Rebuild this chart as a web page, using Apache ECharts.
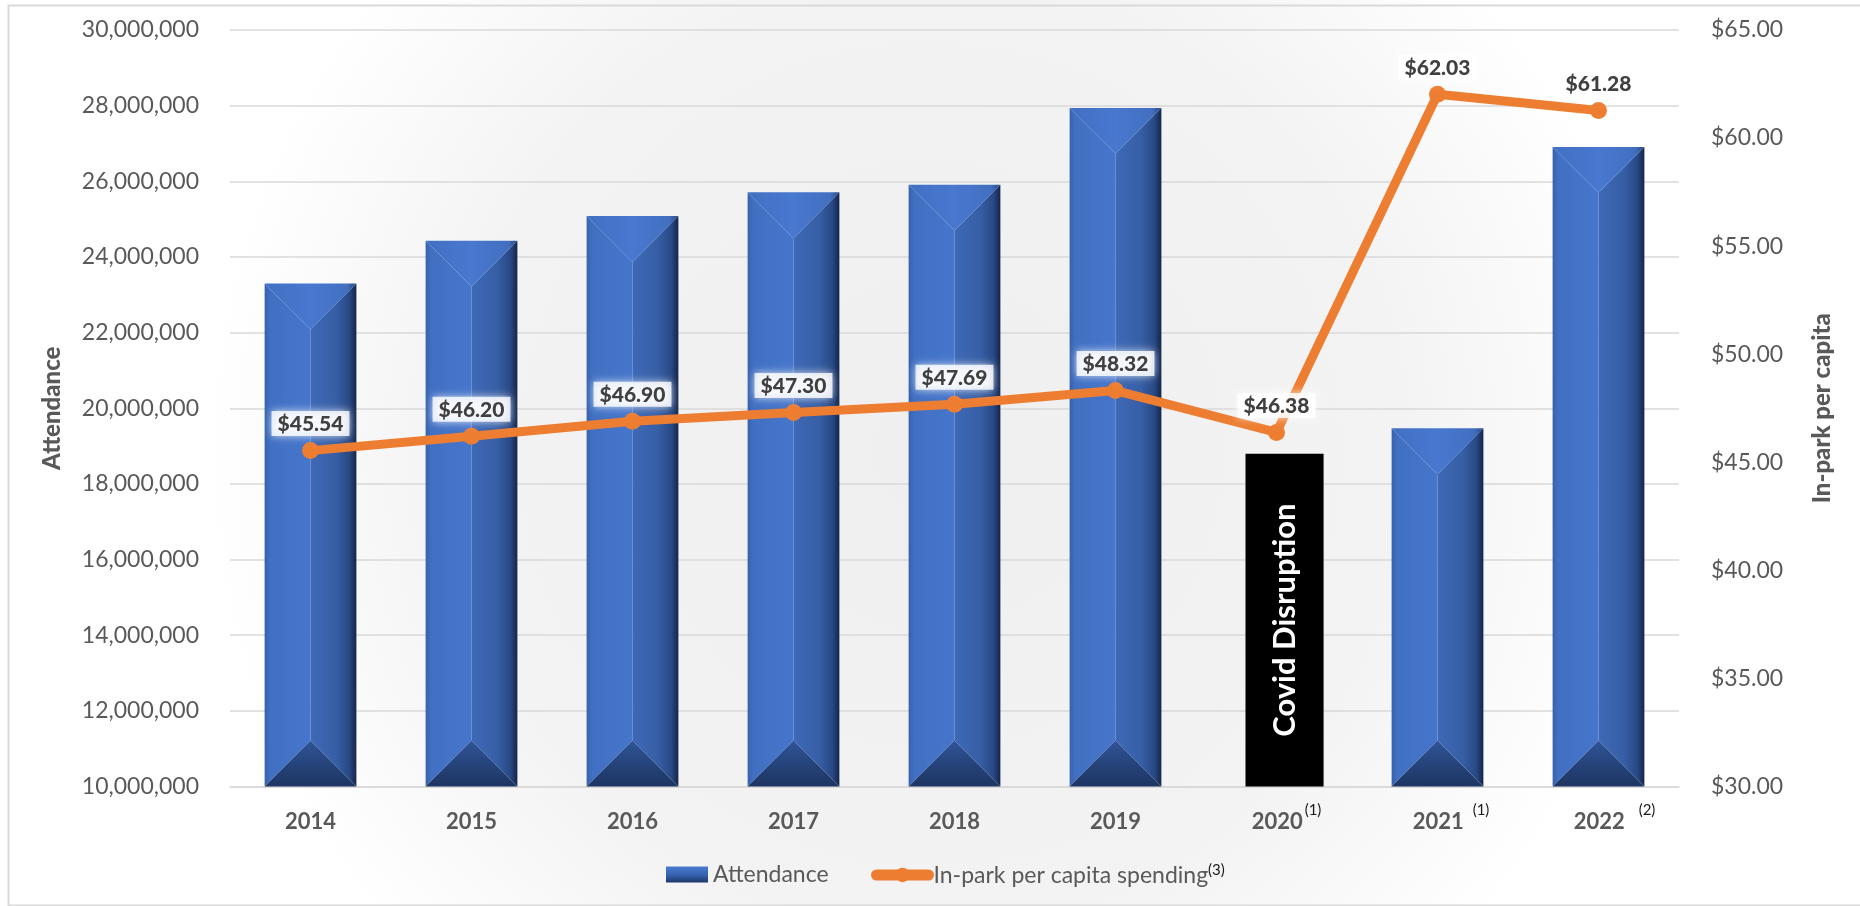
<!DOCTYPE html>
<html><head><meta charset="utf-8">
<script src="https://cdn.jsdelivr.net/npm/echarts@6/dist/echarts.min.js"></script>
<style>html,body{margin:0;padding:0;background:#fff}#chart{width:1860px;height:906px}</style>
</head><body><div id="chart"></div>
<script>
// ---- data ----
const years = ['2014', '2015', '2016', '2017', '2018', '2019', '2020', '2021', '2022'];
const yearNotes = ['', '', '', '', '', '', '(1)', '(1)', '(2)'];
const attendance = [23300000, 24430000, 25080000, 25710000, 25910000, 27940000, null, 19470000, 26910000];
const perCapita = [45.54, 46.20, 46.90, 47.30, 47.69, 48.32, 46.38, 62.03, 61.28];
const attendanceRange = [10000000, 30000000, 2000000];
const spendingRange = [30, 65, 5];
const covidCategory = ['2020'];
const covidTop = [18800000];
const covidLabel = ['Covid Disruption'];
const seriesNames = ['Attendance', 'In-park per capita spending'];
const legendNote = ['(3)'];
const axisNames = ['Attendance', 'In-park per capita'];

// ---- style ----
const FONT = 'Lato';
const GRAY = '#595959';
const noteGap = [0, 0, 0, 0, 0, 0, 2, 9, 14];
const attMin = attendanceRange[0];
const LG = echarts.graphic.LinearGradient;

function bevelBar(params, api) {
  const v = api.value(1);
  if (v == null || isNaN(v)) return null;
  const i = api.value(0);
  const p = api.coord([i, v]);
  const b = api.coord([i, attMin]);
  const band = api.size([1, 0])[0];
  const w = band * 0.57;
  const xc = p[0], x0 = xc - w / 2, x1 = xc + w / 2, yT = p[1], yB = b[1];
  const d = Math.min(w / 2, (yB - yT) / 2);
  return {
    type: 'group', children: [
      { type: 'polygon', shape: { points: [[x0, yT], [xc, yT + d], [xc, yB - d], [x0, yB]] },
        style: { fill: new LG(0, 0, 1, 0, [{ offset: 0, color: '#3661AD' }, { offset: 0.12, color: '#4170C2' }, { offset: 1, color: '#4676CC' }]) } },
      { type: 'polygon', shape: { points: [[xc, yT + d], [x1, yT], [x1, yB], [xc, yB - d]] },
        style: { fill: new LG(0, 0, 1, 0, [{ offset: 0, color: '#3E69B6' }, { offset: 0.55, color: '#375FA6' }, { offset: 0.85, color: '#284883' }, { offset: 1, color: '#14254A' }]) } },
      { type: 'polygon', shape: { points: [[x0, yT], [x1, yT], [xc, yT + d]] },
        style: { fill: new LG(0, 0, 1, 0, [{ offset: 0, color: '#4170C2' }, { offset: 0.5, color: '#4878CF' }, { offset: 0.9, color: '#426FC0' }, { offset: 1, color: '#2A4A85' }]) } },
      { type: 'polygon', shape: { points: [[x0, yB], [xc, yB - d], [x1, yB]] },
        style: { fill: new LG(0, 0, 0, 1, [{ offset: 0, color: '#2F5497' }, { offset: 1, color: '#1D3562' }]) } }
    ]
  };
}

function covidBox(params, api) {
  const i = api.value(0), v = api.value(1);
  const p = api.coord([i, v]);
  const b = api.coord([i, attMin]);
  const band = api.size([1, 0])[0];
  const w = band * 0.485;
  const cx = p[0] + band * 0.05;
  return {
    type: 'group', children: [
      { type: 'rect', shape: { x: cx - w / 2, y: p[1], width: w, height: b[1] - p[1] }, style: { fill: '#000' } },
      { type: 'text', x: cx, y: (p[1] + b[1]) / 2, rotation: Math.PI / 2,
        style: { text: covidLabel[0], fill: '#fff', font: 'bold 31px ' + FONT, align: 'center', verticalAlign: 'middle' } }
    ]
  };
}

const xRich = {
  year: { fontFamily: FONT, fontSize: 22, fontWeight: 'bold', color: GRAY, lineHeight: 30, verticalAlign: 'bottom' },
  sup: { fontFamily: FONT, fontSize: 15, color: '#1a1a1a', lineHeight: 6, verticalAlign: 'top' }
};
yearNotes.forEach((n, i) => {
  if (n) {
    xRich['pad' + i] = { width: 18 + noteGap[i], lineHeight: 30 };
    xRich['gap' + i] = { width: noteGap[i], lineHeight: 30 };
  }
});

const chart = echarts.init(document.getElementById('chart'), null, { renderer: 'canvas' });
const option = {
  animation: false,
  backgroundColor: new echarts.graphic.RadialGradient(0.5, 0.5, 0.8, [
    { offset: 0, color: '#efefef' }, { offset: 0.65, color: '#f3f3f3' }, { offset: 1, color: '#ffffff' }]),
  textStyle: { fontFamily: FONT },
  graphic: [{ type: 'rect', left: 6, top: 3, shape: { width: 1860, height: 900 }, style: { fill: 'none', stroke: '#d9d9d9', lineWidth: 2 }, silent: true }],
  grid: { left: 230, right: 181, top: 30, bottom: 119.5 },
  legend: [
    { left: 661, top: 858, itemWidth: 42, itemHeight: 16, itemGap: 37,
      data: [{ name: seriesNames[0], icon: 'rect', itemStyle: { color: new LG(0, 0, 0, 1, [{ offset: 0, color: '#4A7BD2' }, { offset: 0.55, color: '#3560AC' }, { offset: 1, color: '#1E3766' }]) } }],
      textStyle: { fontFamily: FONT, fontSize: 23, color: GRAY } },
    { left: 866, top: 858, itemWidth: 52, itemHeight: 18,
      data: [{ name: seriesNames[1], lineStyle: { width: 11, color: '#ED7D31' }, itemStyle: { color: '#ED7D31' } }],
      formatter: n => '{t|' + n + '}{sup|' + legendNote[0] + '}',
      textStyle: { fontFamily: FONT, fontSize: 23, color: GRAY,
        rich: { t: { fontFamily: FONT, fontSize: 23, color: GRAY, lineHeight: 24, verticalAlign: 'bottom' },
                sup: { fontFamily: FONT, fontSize: 15, color: '#1a1a1a', lineHeight: 4, verticalAlign: 'top' } } } }
  ],
  xAxis: {
    type: 'category', data: years,
    axisLine: { show: true, lineStyle: { color: '#d9d9d9', width: 1.5 } },
    axisTick: { show: false },
    axisLabel: { margin: 16, interval: 0,
      formatter: (v, i) => yearNotes[i] ? '{pad' + i + '| }{year|' + v + '}{gap' + i + '| }{sup|' + yearNotes[i] + '}' : '{year|' + v + '}',
      rich: xRich }
  },
  yAxis: [
    { type: 'value', min: attendanceRange[0], max: attendanceRange[1], interval: attendanceRange[2],
      name: axisNames[0], nameLocation: 'middle', nameGap: 166, nameRotate: 90,
      nameTextStyle: { fontFamily: FONT, fontSize: 24, fontWeight: 900, color: GRAY },
      axisLine: { show: false }, axisTick: { show: false },
      axisLabel: { margin: 31, fontFamily: FONT, fontSize: 23, color: GRAY, formatter: v => v.toLocaleString('en-US') },
      splitLine: { lineStyle: { color: '#d9d9d9', width: 1.5 } } },
    { type: 'value', min: spendingRange[0], max: spendingRange[1], interval: spendingRange[2], position: 'right',
      name: axisNames[1], nameLocation: 'middle', nameGap: 131, nameRotate: 90,
      nameTextStyle: { fontFamily: FONT, fontSize: 24, fontWeight: 900, color: GRAY },
      axisLine: { show: false }, axisTick: { show: false },
      axisLabel: { margin: 32, fontFamily: FONT, fontSize: 23, color: GRAY, formatter: v => '$' + v.toFixed(2) },
      splitLine: { show: false } }
  ],
  series: [
    { name: seriesNames[0], type: 'custom', yAxisIndex: 0, z: 2,
      itemStyle: { color: '#4472C4' },
      encode: { x: 0, y: 1 },
      data: attendance.map((v, i) => [i, v]),
      renderItem: bevelBar },
    { name: 'covid', type: 'custom', yAxisIndex: 0, z: 3,
      encode: { x: 0, y: 1 },
      data: covidCategory.map((c, k) => [years.indexOf(c), covidTop[k]]),
      renderItem: covidBox },
    { name: seriesNames[1], type: 'line', yAxisIndex: 1, z: 5,
      data: perCapita,
      symbol: 'circle', symbolSize: 17,
      lineStyle: { color: '#ED7D31', width: 9, cap: 'round', join: 'round' },
      itemStyle: { color: '#ED7D31' },
      label: { show: true, position: 'top', distance: 6,
        formatter: p => '$' + p.value.toFixed(2),
        fontFamily: FONT, fontSize: 21, fontWeight: 900, color: '#404040',
        backgroundColor: 'rgba(255,255,255,0.8)', padding: [3, 6, 1, 6],
        shadowBlur: 8, shadowColor: 'rgba(255,255,255,0.95)' } }
  ]
};
chart.setOption(option);
</script></body></html>
